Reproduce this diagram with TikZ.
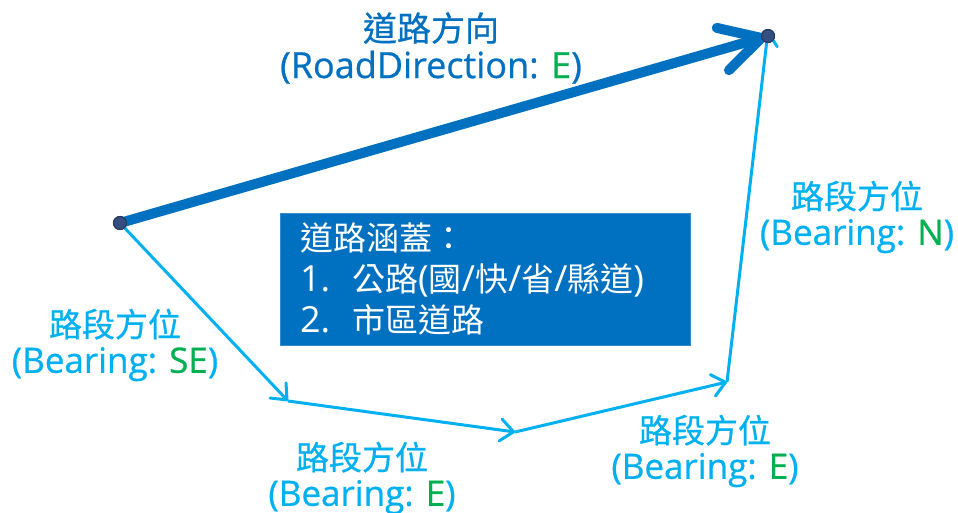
\documentclass[tikz,border=0pt]{standalone}
\usepackage{fontspec}
\setmainfont{Noto Sans CJK TC}
\newfontfamily\cjkfont{Noto Sans CJK TC}
\newfontfamily\latinfont{Open Sans}
\newfontfamily\cjksemi[FakeBold=0.7]{Noto Sans CJK TC}
\newfontfamily\latinsemi[FakeBold=0.7]{Open Sans}
\usepackage{xcolor}
\usepackage{tikz}
\usetikzlibrary{arrows.meta, positioning}
\definecolor{roadblue}{RGB}{0, 112, 192}
\definecolor{segblue}{RGB}{0, 176, 240}
\definecolor{dirgreen}{RGB}{0, 176, 80}
\definecolor{dotnavy}{RGB}{52, 78, 130}

% label text: Chinese line over a Latin line
\newcommand{\seglines}[1]{{\fontsize{33}{36}\cjksemi 路段方位}\\{\fontsize{35}{36}\latinsemi (Bearing: \textcolor{dirgreen}{#1})}}

\begin{document}
\begin{tikzpicture}[
        x=1pt, y=-1pt,
        roadarrow/.style={-{Straight Barb[length=40pt, width=44pt, round]}, line width=10pt, color=roadblue, line cap=round},
        segarrow/.style={-{Straight Barb[length=13pt, width=22pt, round]}, line width=3pt, color=segblue},
        seglabel/.style={align=center, text=segblue, font=\fontsize{33}{36}\selectfont},
        roadlabel/.style={align=center, text=roadblue, font=\fontsize{34}{37}\selectfont},
        infobox/.style={rectangle, fill=roadblue, draw=roadblue!80, text=white, minimum width=410pt, minimum height=132pt, text width=370pt, align=left, inner xsep=20pt, font=\fontsize{33}{41}\selectfont},
        waypoint/.style={circle, fill=dotnavy, draw=dotnavy!70!black, line width=1pt, minimum size=13pt, inner sep=0pt}
    ]
        \useasboundingbox (0,0) rectangle (958,513);

        % Points
        \coordinate (bendSE) at (288,401);
        \coordinate (bendE) at (515,432);
        \coordinate (bendN) at (727,382);
        \node[waypoint] (start) at (120,223) {};
        \node[waypoint] (finish) at (768,36) {};

        % Road segments
        \draw[segarrow] (start.center) -- (bendSE);
        \draw[segarrow] (bendSE) -- (bendE);
        \draw[segarrow] (bendE) -- (bendN);
        \draw[segarrow] (bendN) -- ([yshift=5pt]finish.center);

        % Road direction
        \draw[roadarrow, shorten >=2pt] (start.center) -- (finish.center);
        \node[waypoint] at (start) {};
        \node[waypoint] at (finish) {};

        % Labels
        \node[roadlabel] (dirlabel) at (431,48) {{\cjksemi 道路方向}\\{\fontsize{36}{37}\latinsemi (RoadDirection: \textcolor{dirgreen}{E})}};
        \node[seglabel] (labelSE) at (115,345) {\seglines{SE}};
        \node[seglabel] (labelE) at (362,478) {\seglines{E}};
        \node[seglabel] (labelEE) at (705,451) {\seglines{E}};
        \node[seglabel] (labelN) at (857,217) {\seglines{N}};

        % Coverage box
        \node[infobox] (coverage) at (485,279) {{\cjkfont 道路涵蓋：}\\{\fontsize{36}{41}\latinfont 1.}\hspace{22pt}{\cjkfont 公路}{\fontsize{36}{41}\latinfont (}{\cjkfont 國}{\fontsize{36}{41}\latinfont /}{\cjkfont 快}{\fontsize{36}{41}\latinfont /}{\cjkfont 省}{\fontsize{36}{41}\latinfont /}{\cjkfont 縣道}{\fontsize{36}{41}\latinfont )}\\{\fontsize{36}{41}\latinfont 2.}\hspace{22pt}{\cjkfont 市區道路}};
    \end{tikzpicture}
\end{document}
